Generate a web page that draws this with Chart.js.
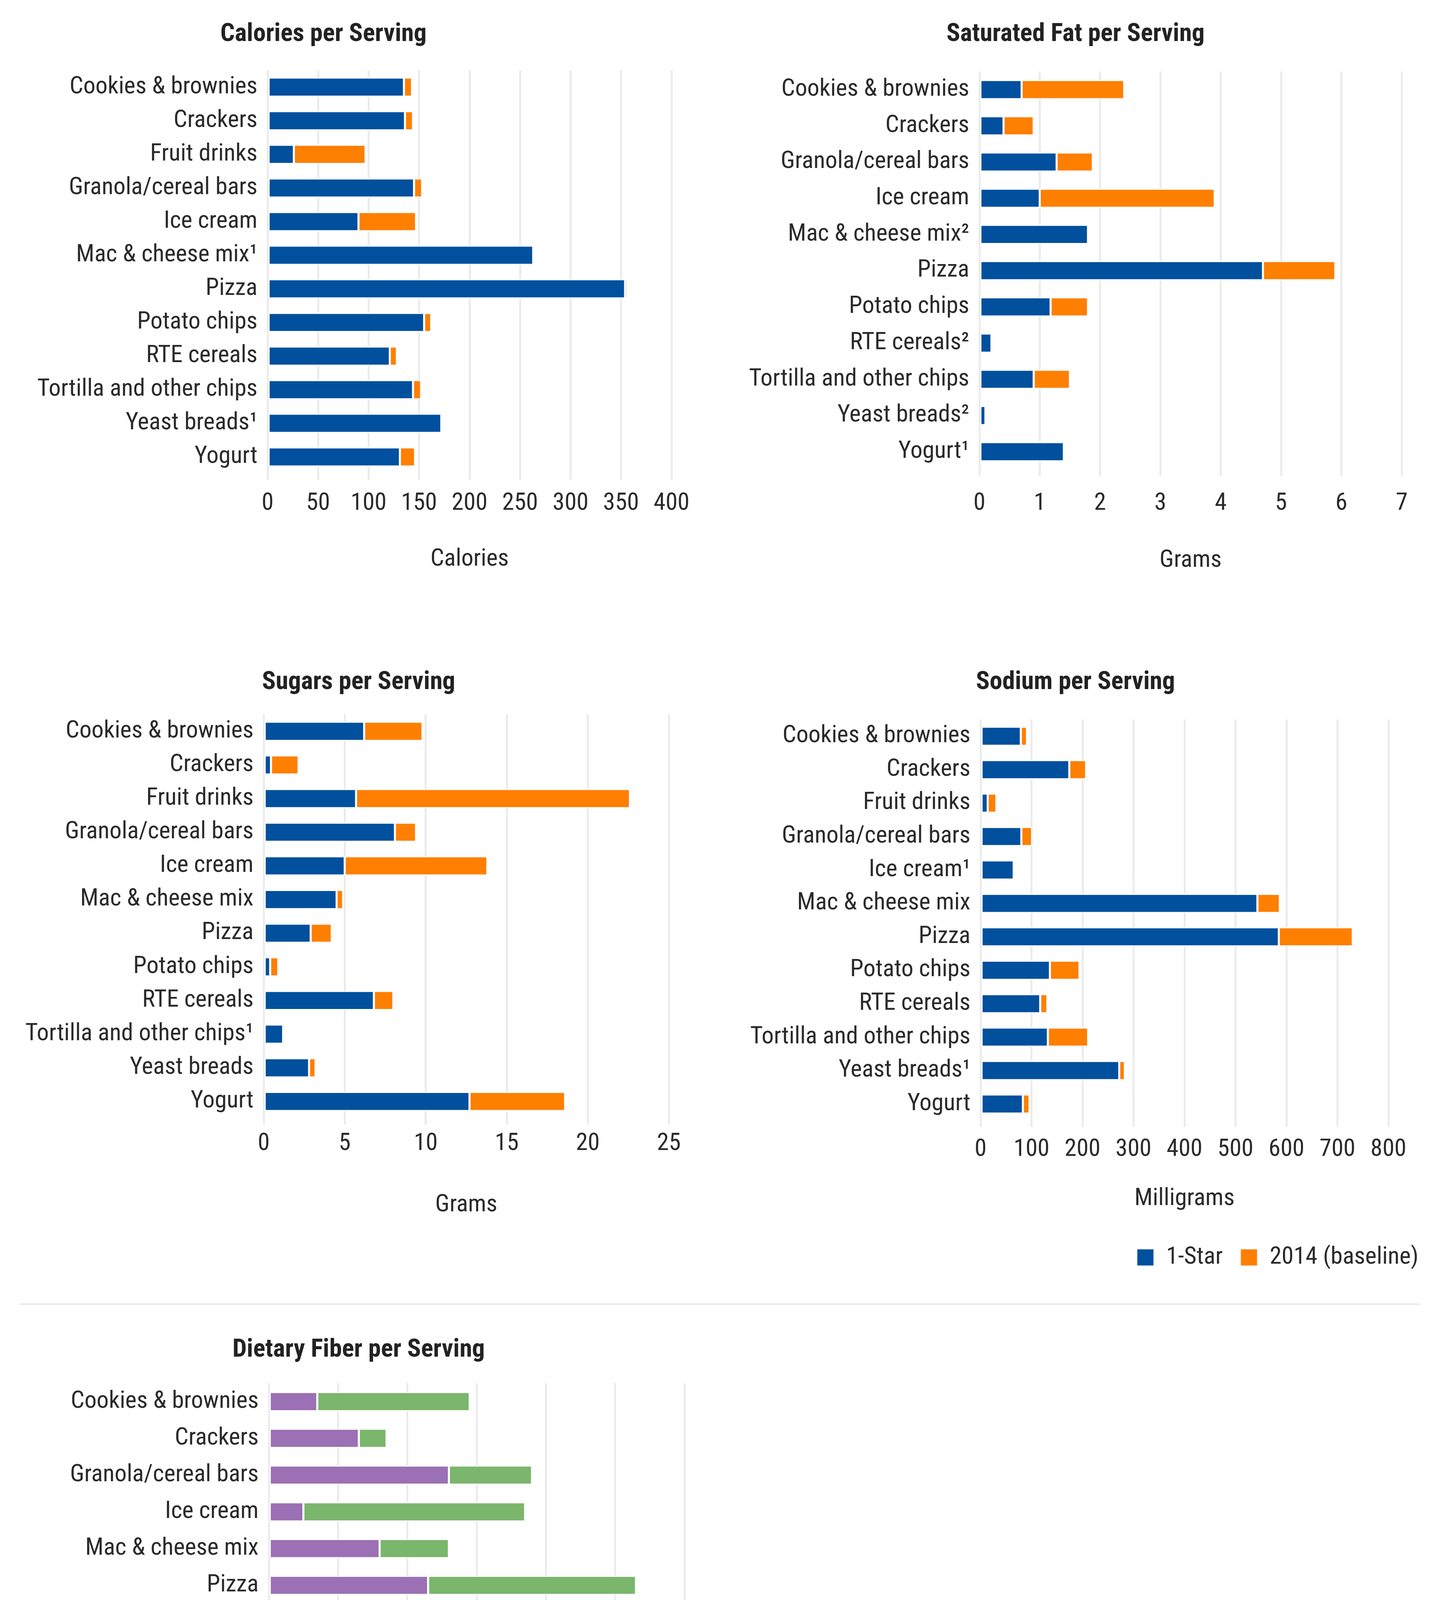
<!DOCTYPE html>
<html>
<head>
<meta charset="utf-8">
<script src="https://cdn.jsdelivr.net/npm/chart.js@4.4.1/dist/chart.umd.min.js"></script>
<style>
  html, body { margin: 0; padding: 0; background: #ffffff; }
  body { width: 3686px; height: 5177px; position: relative; overflow: hidden; }
  #page { position: absolute; left: 0; top: 0; width: 3686px; height: 5177px; }
  canvas { position: absolute; }
  .ttl { position: absolute; transform: translate(-50%, -50%); font-weight: bold; color: #222; white-space: nowrap; line-height: 1; }
  .divider { position: absolute; left: 50px; width: 3584px; top: 3337px; height: 3px; background: #e3e3e3; }
  #cap { position: absolute; left: 1842px; top: 5124px; transform: translate(-50%, -50%); font-family: 'Liberation Serif', 'DejaVu Serif', serif; font-size: 74px; color: #111; line-height: 1; white-space: nowrap; }
</style>
</head>
<body>
<div id="page">
<div class="ttl" id="t1" style="left:828px;top:83px;">Calories per Serving</div>
<div class="ttl" id="t2" style="left:2753px;top:83px;">Saturated Fat per Serving</div>
<div class="ttl" id="t3" style="left:918px;top:1742px;">Sugars per Serving</div>
<div class="ttl" id="t4" style="left:2753px;top:1742px;">Sodium per Serving</div>
<div class="ttl" id="t5" style="left:918px;top:3451px;">Dietary Fiber per Serving</div>
<canvas id="c1"></canvas>
<canvas id="c2"></canvas>
<canvas id="c3"></canvas>
<canvas id="c4"></canvas>
<div class="divider"></div>
<canvas id="c5"></canvas>
<div id="cap">(<b>a</b>)</div>
</div>
<script>
// ---------------- DATA ----------------
const calCategories = ['Cookies & brownies', 'Crackers', 'Fruit drinks', 'Granola/cereal bars', 'Ice cream', 'Mac & cheese mix\u00B9', 'Pizza', 'Potato chips', 'RTE cereals', 'Tortilla and other chips', 'Yeast breads\u00B9', 'Yogurt'];
const calOneStar      = [135, 136, 26, 145, 90, 263, 354, 155, 121, 144, 172, 131];
const calBaselineDiff = [8, 8, 71, 8, 57, 0, 2, 7, 7, 8, 0, 15];
const calTicks = [0, 50, 100, 150, 200, 250, 300, 350, 400];

const satCategories = ['Cookies & brownies', 'Crackers', 'Granola/cereal bars', 'Ice cream', 'Mac & cheese mix\u00B2', 'Pizza', 'Potato chips', 'RTE cereals\u00B2', 'Tortilla and other chips', 'Yeast breads\u00B2', 'Yogurt\u00B9'];
const satOneStar      = [0.7, 0.4, 1.28, 1.0, 1.8, 4.7, 1.18, 0.2, 0.9, 0.1, 1.4];
const satBaselineDiff = [1.7, 0.5, 0.6, 2.9, 0, 1.2, 0.62, 0, 0.6, 0, 0];
const satTicks = [0, 1, 2, 3, 4, 5, 6, 7];

const sugCategories = ['Cookies & brownies', 'Crackers', 'Fruit drinks', 'Granola/cereal bars', 'Ice cream', 'Mac & cheese mix', 'Pizza', 'Potato chips', 'RTE cereals', 'Tortilla and other chips\u00B9', 'Yeast breads', 'Yogurt'];
const sugOneStar      = [6.2, 0.45, 5.7, 8.1, 5.0, 4.5, 2.9, 0.4, 6.8, 1.2, 2.8, 12.7];
const sugBaselineDiff = [3.6, 1.7, 16.9, 1.3, 8.8, 0.4, 1.3, 0.5, 1.2, 0, 0.4, 5.9];
const sugTicks = [0, 5, 10, 15, 20, 25];

const sodCategories = ['Cookies & brownies', 'Crackers', 'Fruit drinks', 'Granola/cereal bars', 'Ice cream\u00B9', 'Mac & cheese mix', 'Pizza', 'Potato chips', 'RTE cereals', 'Tortilla and other chips', 'Yeast breads\u00B9', 'Yogurt'];
const sodOneStar      = [79, 174, 14, 80, 65, 543, 585, 136, 117, 132, 272, 83];
const sodBaselineDiff = [12, 33, 17, 21, 0, 44, 145, 58, 14, 79, 11, 13];
const sodTicks = [0, 100, 200, 300, 400, 500, 600, 700, 800];

const fibCategories = ['Cookies & brownies', 'Crackers', 'Granola/cereal bars', 'Ice cream', 'Mac & cheese mix', 'Pizza', 'Potato chips', 'RTE cereals', 'Tortilla and other chips', 'Yeast breads\u00B3', 'Yogurt'];
const fibBaseline    = [0.7, 1.3, 2.6, 0.5, 1.6, 2.3, 1.0, 2.0, 1.3, 2.4, 0.4];
const fibOneStarDiff = [2.2, 0.4, 1.2, 3.2, 1.0, 3.0, 0.2, 0.6, 1.1, 0, 1.8];
const fibTicks = [0, 1, 2, 3, 4, 5, 6];

const LABEL_ONE_STAR = '1-Star';
const LABEL_BASELINE = '2014 (baseline)';

// ---------------- STYLE ----------------
const BLUE = '#00509E', ORANGE = '#FF7F00', PURPLE = '#9B70B4', GREEN = '#7AB66B';
const TEXT = '#2a2a2a', GRID = '#ebebeb';

const probe = document.createElement('canvas').getContext('2d');
function tw(font, s) { probe.font = font; return probe.measureText(s).width; }
let FAMILY = "'Liberation Sans', Arial, sans-serif";
const sample = 'Cookies & brownies';
for (const fam of ['Liberation Sans Narrow', 'Arial Narrow', 'Nimbus Sans Narrow', 'Roboto Condensed', 'DejaVu Sans Condensed']) {
  if (Math.abs(tw('100px "' + fam + '", monospace', sample) - tw('100px monospace', sample)) > 0.5) {
    FAMILY = '"' + fam + '", "Liberation Sans", sans-serif';
    break;
  }
}
const FS = Math.round(100 * 483 / tw('100px ' + FAMILY, sample));
const TS = Math.round(100 * 532 / tw('bold 100px ' + FAMILY, 'Calories per Serving'));
Chart.defaults.font.family = FAMILY;
Chart.defaults.color = TEXT;
for (const id of ['t1', 't2', 't3', 't4', 't5']) {
  const el = document.getElementById(id);
  el.style.fontFamily = FAMILY;
  el.style.fontSize = TS + 'px';
}

function buildChart(s) {
  const cv = document.getElementById(s.id);
  const lh = FS * 1.2;
  const tickLen = 16;
  const legendPad = 45;
  const itemH = Math.max(FS, 44);
  const tickPad = Math.max(0, s.tickY - s.area.B - tickLen - lh / 2);
  let titlePadBottom = 0, legendH = 0;
  if (s.legendY) {
    const legendTop = s.legendY - legendPad - itemH / 2;
    titlePadBottom = Math.max(0, legendTop - s.titleY - lh / 2);
    legendH = itemH + legendPad + 10;
  }
  const Hx = s.titleY - s.area.B + lh / 2 + titlePadBottom;
  const W = s.box.right - s.box.left;
  const H = Math.round(s.area.B + Hx + legendH - s.box.top);
  cv.width = W; cv.height = H;
  cv.style.left = s.box.left + 'px'; cv.style.top = s.box.top + 'px';
  cv.style.width = W + 'px'; cv.style.height = H + 'px';
  return new Chart(cv, {
    type: 'bar',
    data: {
      labels: s.cats,
      datasets: s.sets.map(d => ({
        label: d.label, data: d.data, backgroundColor: d.color,
        borderColor: 'rgba(255,255,255,0.85)', borderWidth: 3, borderSkipped: false,
        barThickness: 49, xAxisID: 'x', yAxisID: 'y'
      }))
    },
    options: {
      indexAxis: 'y', responsive: false, animation: false, devicePixelRatio: 1,
      layout: { padding: { top: s.area.T - s.box.top, left: 0, right: 0, bottom: 0 } },
      plugins: {
        legend: {
          display: !!s.legendY, position: 'bottom', align: 'end',
          labels: { boxWidth: 44, boxHeight: 44, padding: legendPad, color: TEXT, font: { size: FS } }
        },
        tooltip: { enabled: false },
        title: { display: false }
      },
      scales: {
        x: {
          type: 'linear', stacked: true, min: 0, max: s.ticks[s.ticks.length - 1],
          afterBuildTicks: sc => { sc.ticks = s.ticks.map(v => ({ value: v })); },
          afterFit: sc => { sc.height = Hx; },
          grid: { color: GRID, lineWidth: 5, drawTicks: true, tickLength: tickLen },
          border: { display: false },
          ticks: { color: TEXT, padding: tickPad, font: { size: FS }, maxRotation: 0, autoSkip: false },
          title: { display: true, text: s.xTitle, color: TEXT, font: { size: FS }, padding: { top: 0, bottom: titlePadBottom } }
        },
        y: {
          type: 'category', stacked: true,
          grid: { display: false }, border: { display: false },
          afterFit: sc => { sc.width = s.area.L - s.box.left; },
          ticks: { color: TEXT, padding: 18, autoSkip: false, font: { size: FS } }
        },
        pad: {
          type: 'linear', position: 'right', display: true,
          grid: { display: false }, border: { display: false }, ticks: { display: false },
          afterFit: sc => { sc.width = s.box.right - s.area.R; }
        }
      }
    }
  });
}

buildChart({
  id: 'c1', box: { left: 0, top: 100, right: 1843 }, area: { L: 685, T: 180, R: 1719, B: 1213 },
  cats: calCategories, ticks: calTicks, xTitle: 'Calories', tickY: 1290, titleY: 1433,
  sets: [{ label: LABEL_ONE_STAR, data: calOneStar, color: BLUE }, { label: LABEL_BASELINE, data: calBaselineDiff, color: ORANGE }]
});
buildChart({
  id: 'c2', box: { left: 1843, top: 100, right: 3686 }, area: { L: 2507, T: 183, R: 3588, B: 1203 },
  cats: satCategories, ticks: satTicks, xTitle: 'Grams', tickY: 1290, titleY: 1436,
  sets: [{ label: LABEL_ONE_STAR, data: satOneStar, color: BLUE }, { label: LABEL_BASELINE, data: satBaselineDiff, color: ORANGE }]
});
buildChart({
  id: 'c3', box: { left: 0, top: 1770, right: 1843 }, area: { L: 675, T: 1829, R: 1712, B: 2863 },
  cats: sugCategories, ticks: sugTicks, xTitle: 'Grams', tickY: 2929, titleY: 3086,
  sets: [{ label: LABEL_ONE_STAR, data: sugOneStar, color: BLUE }, { label: LABEL_BASELINE, data: sugBaselineDiff, color: ORANGE }]
});
buildChart({
  id: 'c4', box: { left: 1843, top: 1770, right: 3676 }, area: { L: 2510, T: 1842, R: 3554, B: 2869 },
  cats: sodCategories, ticks: sodTicks, xTitle: 'Milligrams', tickY: 2943, titleY: 3069, legendY: 3219,
  sets: [{ label: LABEL_ONE_STAR, data: sodOneStar, color: BLUE }, { label: LABEL_BASELINE, data: sodBaselineDiff, color: ORANGE }]
});
buildChart({
  id: 'c5', box: { left: 0, top: 3480, right: 1850 }, area: { L: 688, T: 3541, R: 1752, B: 4576 },
  cats: fibCategories, ticks: fibTicks, xTitle: 'Grams', tickY: 4648, titleY: 4795, legendY: 4928,
  sets: [{ label: LABEL_BASELINE, data: fibBaseline, color: PURPLE }, { label: LABEL_ONE_STAR, data: fibOneStarDiff, color: GREEN }]
});
</script>
</body>
</html>
